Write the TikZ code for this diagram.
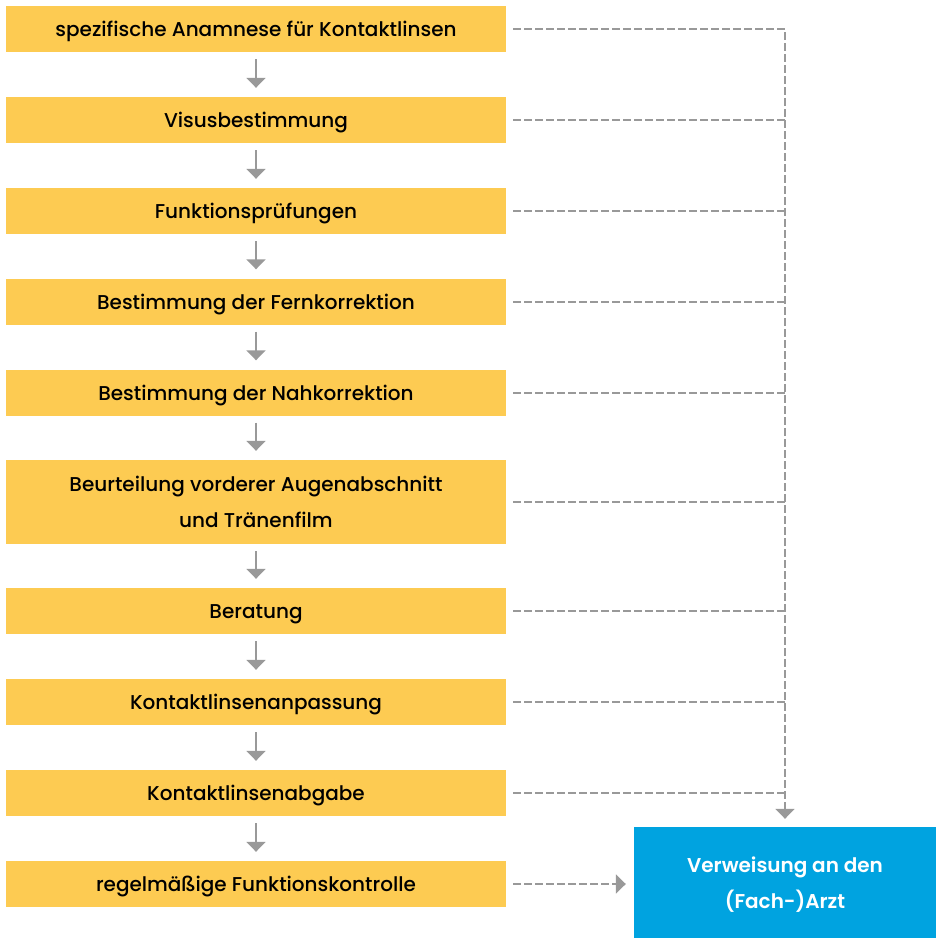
\documentclass[tikz,border=0pt]{standalone}
\usepackage{fontspec}
\setmainfont{Poppins}[UprightFont=* Medium, BoldFont=* SemiBold]
\usetikzlibrary{arrows.meta}
\definecolor{ylw}{HTML}{FDCB52}
\definecolor{blu}{HTML}{00A3E0}
\definecolor{gr}{HTML}{999999}
\tikzset{
  stepbox/.style={fill=ylw, minimum width=500pt, minimum height=46pt, inner sep=0pt,
    font=\fontsize{20}{36}\selectfont, align=center, text=black,
    text height=15pt, text depth=0pt},
  tallbox/.style={stepbox, minimum height=84pt, text height=51pt},
  refbox/.style={fill=blu, minimum width=302pt, minimum height=111pt, inner sep=0pt,
    font=\fontsize{20}{36}\selectfont\bfseries, align=center, text=white,
    text height=51pt, text depth=0pt},
  flow/.style={draw=gr, line width=2pt, -{Triangle[width=19pt,length=10pt]},
    shorten <=7pt, shorten >=9pt},
  dsh/.style={draw=gr, line width=2pt, dash pattern=on 7.5pt off 3.5pt},
  dsharr/.style={dsh, -{Triangle[width=19pt,length=10pt]}, shorten >=8pt},
}
\begin{document}
\begin{tikzpicture}[x=1pt,y=-1pt]
\useasboundingbox (0,0) rectangle (936,938);
\node[stepbox] (b1) at (256,29) {spezifische Anamnese für Kontaktlinsen};
\node[stepbox] (b2) at (256,120) {Visusbestimmung};
\node[stepbox] (b3) at (256,211) {Funktionsprüfungen};
\node[stepbox] (b4) at (256,301.5) {Bestimmung der Fernkorrektion};
\node[stepbox] (b5) at (256,392.5) {Bestimmung der Nahkorrektion};
\node[tallbox] (b6) at (256,502) {Beurteilung vorderer Augenabschnitt\\und Tränenfilm};
\node[stepbox] (b7) at (256,611) {Beratung};
\node[stepbox] (b8) at (256,702) {Kontaktlinsenanpassung};
\node[stepbox] (b9) at (256,793) {Kontaktlinsenabgabe};
\node[stepbox] (b10) at (256,884) {regelmäßige Funktionskontrolle};
\node[refbox] (ref) at (785,882.5) {Verweisung an den\\(Fach-)Arzt};
\foreach \a/\b in {b1/b2,b2/b3,b3/b4,b4/b5,b5/b6,b6/b7,b7/b8,b8/b9,b9/b10}
  \draw[flow] (\a.south) -- (\b.north);
\draw[dsharr] ([xshift=7pt]b1.east) -| (ref.north);
\foreach \a in {b2,b3,b4,b5,b6,b7,b8,b9}
  \draw[dsh] ([xshift=7pt]\a.east) -- (\a.east -| ref.north);
\draw[dsharr] ([xshift=7pt]b10.east) -- (b10.east -| ref.west);
\end{tikzpicture}
\end{document}
